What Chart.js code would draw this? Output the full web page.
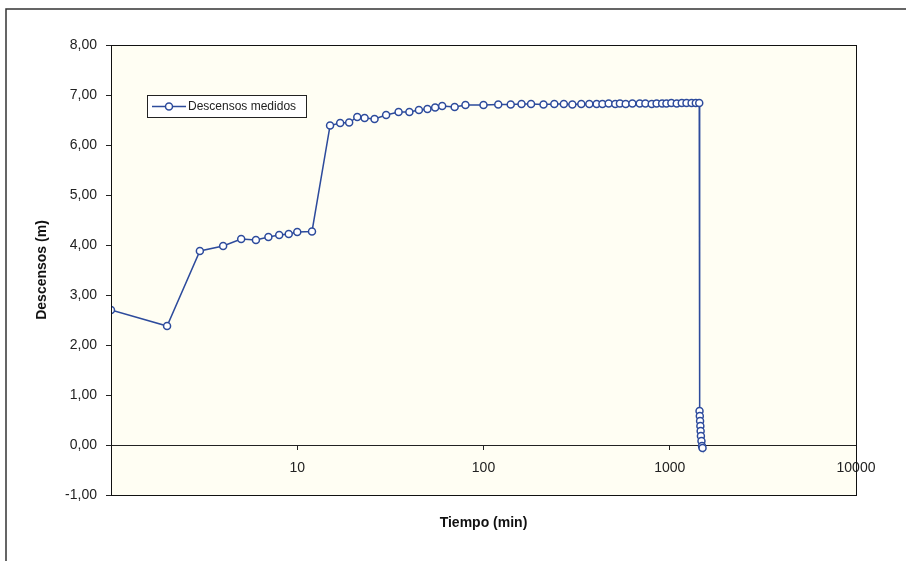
<!DOCTYPE html>
<html>
<head>
<meta charset="utf-8">
<script src="https://cdn.jsdelivr.net/npm/chart.js@4.4.1/dist/chart.umd.min.js"></script>
<style>
  html, body { margin: 0; padding: 0; background: #fff; }
</style>
</head>
<body>
<canvas id="descensosChart" width="906" height="561"></canvas>
<script>
// tiempo (min) y descenso (m)
const tiempos = [
  1, 2, 3, 4, 5, 6, 7, 8, 9, 10, 12,
  15, 17, 19, 21, 23, 26, 30, 35, 40, 45, 50, 55, 60, 70, 80, 100, 120,
  140, 160, 180, 210, 240, 270, 300, 335, 370, 405, 435, 470, 510, 540, 580,
  630, 690, 740, 800, 850, 910, 960, 1020, 1090, 1160, 1230, 1310, 1380, 1440,
  1445, 1450, 1455, 1460, 1465, 1470, 1480, 1490, 1500
];
const descensos = [
  2.70, 2.38, 3.88, 3.98, 4.12, 4.10, 4.16, 4.20, 4.22, 4.26, 4.27,
  6.39, 6.44, 6.45, 6.56, 6.54, 6.52, 6.60, 6.66, 6.66, 6.70, 6.72, 6.75, 6.78, 6.76, 6.80, 6.80, 6.81,
  6.81, 6.82, 6.82, 6.81, 6.82, 6.82, 6.81, 6.82, 6.82, 6.82, 6.82, 6.83, 6.82, 6.83, 6.82,
  6.83, 6.83, 6.83, 6.82, 6.83, 6.83, 6.83, 6.84, 6.83, 6.84, 6.84, 6.84, 6.84, 6.84,
  0.68, 0.58, 0.48, 0.38, 0.28, 0.18, 0.08, -0.02, -0.06
];
const xTickValues = [10, 100, 1000, 10000];
const yMin = -1, yMax = 8;

const blue = "#2d4b9c";
const font = "'Liberation Sans', Arial, sans-serif";

const framePlugin = {
  id: "frame",
  beforeDraw(chart) {
    const ctx = chart.ctx;
    const a = chart.chartArea;
    ctx.save();
    ctx.fillStyle = "#fffef3";
    ctx.fillRect(a.left, a.top, a.right - a.left, a.bottom - a.top);
    // marco exterior de la figura
    ctx.strokeStyle = "#333";
    ctx.lineWidth = 1.5;
    ctx.beginPath();
    ctx.moveTo(6, 561);
    ctx.lineTo(6, 9);
    ctx.lineTo(906, 9);
    ctx.stroke();
    ctx.restore();
  },
  afterDraw(chart) {
    const ctx = chart.ctx;
    const a = chart.chartArea;
    ctx.save();
    ctx.strokeStyle = "#111";
    ctx.lineWidth = 1;
    ctx.strokeRect(a.left + 0.5, a.top + 0.5, a.right - a.left, a.bottom - a.top);

    // título eje x
    ctx.fillStyle = "#111";
    ctx.font = "bold 14px " + font;
    ctx.textAlign = "center";
    ctx.textBaseline = "middle";
    ctx.fillText("Tiempo (min)", (a.left + a.right) / 2, 523);

    // leyenda
    const lx = 147, ly = 95, lw = 159, lh = 22;
    ctx.fillStyle = "#fff";
    ctx.fillRect(lx, ly, lw, lh);
    ctx.strokeStyle = "#222";
    ctx.strokeRect(lx + 0.5, ly + 0.5, lw, lh);
    const cy = ly + lh / 2 + 0.5;
    ctx.strokeStyle = blue;
    ctx.lineWidth = 1.5;
    ctx.beginPath();
    ctx.moveTo(152, cy);
    ctx.lineTo(186, cy);
    ctx.stroke();
    ctx.beginPath();
    ctx.arc(169, cy, 3.5, 0, Math.PI * 2);
    ctx.fillStyle = "#fff";
    ctx.fill();
    ctx.stroke();
    ctx.fillStyle = "#222";
    ctx.font = "12px " + font;
    ctx.textAlign = "left";
    ctx.fillText("Descensos medidos", 188, cy);
    ctx.restore();
  }
};

const ctx = document.getElementById("descensosChart").getContext("2d");
const chart = new Chart(ctx, {
  type: "line",
  data: {
    datasets: [{
      label: "Descensos medidos",
      data: tiempos.map((t, i) => ({ x: t, y: descensos[i] })),
      borderColor: blue,
      borderWidth: 1.5,
      backgroundColor: "#ffffff",
      pointRadius: 3.5,
      pointBorderWidth: 1.5,
      pointBorderColor: blue,
      pointBackgroundColor: "#ffffff",
      tension: 0
    }]
  },
  options: {
    responsive: false,
    animation: false,
    layout: { padding: { left: 30, top: 45, right: 50, bottom: 66 } },
    plugins: {
      legend: { display: false },
      tooltip: { enabled: false }
    },
    scales: {
      x: {
        type: "logarithmic",
        position: { y: 0 },
        min: 1,
        max: 10000,
        afterBuildTicks: (scale) => {
          scale.ticks = xTickValues.map((v) => ({ value: v }));
        },
        ticks: {
          autoSkip: false,
          maxRotation: 0,
          padding: 11,
          color: "#222",
          font: { family: font, size: 14 },
          callback: (v) => String(v)
        },
        grid: { drawOnChartArea: false, drawTicks: true, tickLength: 4, color: "#222" },
        border: { display: true, color: "#222", width: 1 }
      },
      y: {
        min: yMin,
        max: yMax,
        afterFit: (scale) => { scale.width = 81; },
        ticks: {
          stepSize: 1,
          padding: 9,
          color: "#222",
          font: { family: font, size: 14 },
          callback: (v) => v.toFixed(2).replace(".", ",")
        },
        grid: { drawOnChartArea: false, drawTicks: true, tickLength: 5, color: "#222" },
        border: { display: true, color: "#222", width: 1 },
        title: {
          display: true,
          text: "Descensos (m)",
          color: "#111",
          font: { family: font, size: 14, weight: "bold" },
          padding: { top: 4, bottom: 4 }
        }
      }
    }
  },
  plugins: [framePlugin]
});
</script>
</body>
</html>
